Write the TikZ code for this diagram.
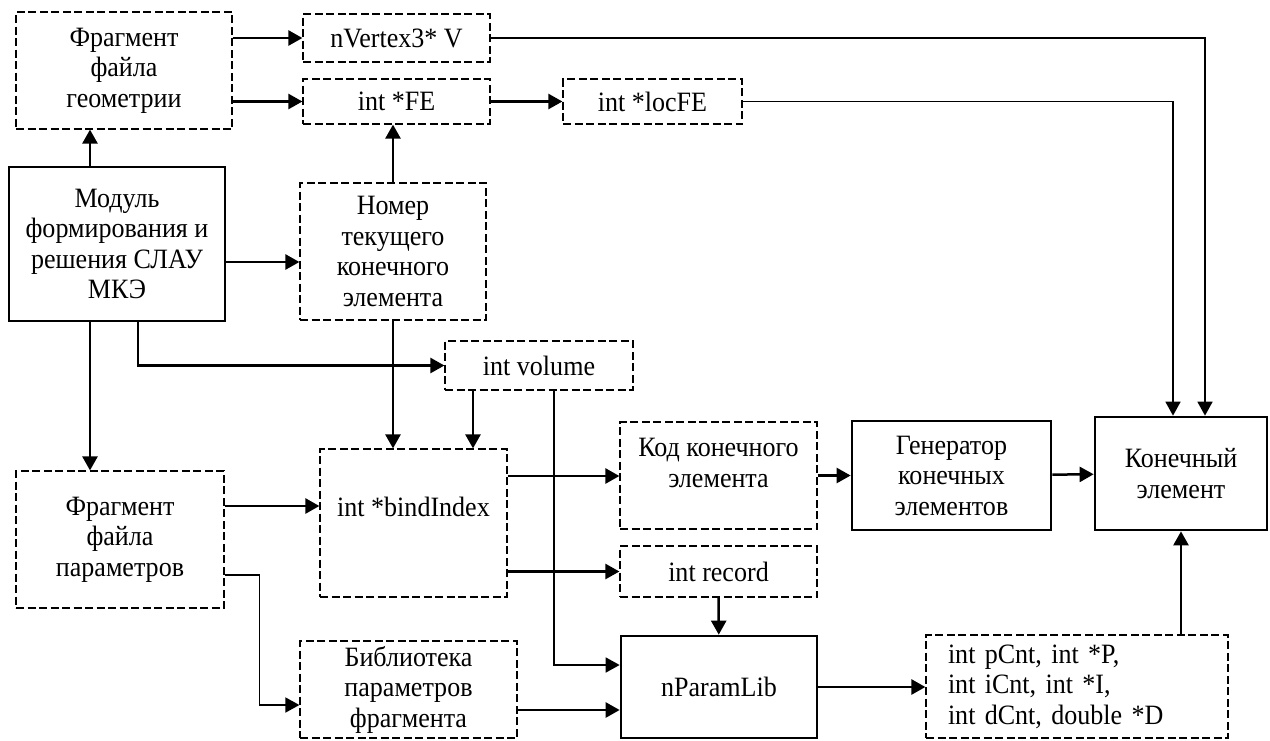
\documentclass[tikz,border=0pt]{standalone}
\usepackage{fontspec}
\setmainfont{Liberation Serif}[FakeStretch=0.93]
\usetikzlibrary{arrows.meta, positioning}

\begin{document}
\begin{tikzpicture}[x=1pt, y=-1pt,
    font=\fontsize{28}{30.5}\selectfont,
    dbox/.style={draw, dash pattern=on 8pt off 3.5pt, line width=1.2pt, align=center, inner sep=2pt},
    sbox/.style={draw, line width=2.7pt, align=center, inner sep=2pt},
    arr/.style={line width=2.5pt, -{Triangle[length=14pt, width=15pt]}},
    wire/.style={line width=1.6pt, -{Triangle[length=14pt, width=15pt]}},
    lbl/.style={align=center, inner sep=0pt}]
    \useasboundingbox (0,0) rectangle (1270,740);

    % Geometry part
    \node[dbox, minimum width=216pt, minimum height=117pt] (geom) at (124,70.5) {Фрагмент\\файла\\геометрии};
    \node[dbox, minimum width=187pt, minimum height=48pt] (vert) at (396.5,38) {nVertex3* V};
    \node[dbox, minimum width=187pt, minimum height=45pt] (fe) at (396.5,101.5) {int *FE};
    \node[dbox, minimum width=179pt, minimum height=45pt] (locfe) at (652.5,101.5) {int *locFE};

    % Solver module and element number
    \node[sbox, minimum width=216pt, minimum height=154pt] (modul) at (117,244) {Модуль\\формирования и\\решения СЛАУ\\МКЭ};
    \node[dbox, minimum width=186pt, minimum height=137pt] (nomer) at (393,251.5) {Номер\\текущего\\конечного\\элемента};
    \node[dbox, minimum width=188pt, minimum height=49pt] (volume) at (539,365.5) {int volume};

    % Parameters part
    \node[dbox, minimum width=208pt, minimum height=137pt] (params) at (120,539.5) {Фрагмент\\файла\\параметров};
    \node[dbox, minimum width=187pt, minimum height=148pt] (bind) at (413.5,523) {};
    \node[lbl] (bindtxt) at (413.5,507) {int *bindIndex};
    \node[dbox, minimum width=197pt, minimum height=107pt] (kod) at (718.5,475.5) {};
    \node[lbl] (kodtxt) at (718.5,463) {Код конечного\\элемента};
    \node[sbox, minimum width=199pt, minimum height=109pt] (gen) at (951.5,475.5) {Генератор\\конечных\\элементов};
    \node[sbox, minimum width=172pt, minimum height=113pt] (kon) at (1181,473.5) {Конечный\\элемент};
    \node[dbox, minimum width=197pt, minimum height=51pt] (record) at (718.5,571.5) {int record};

    % Library row
    \node[dbox, minimum width=217pt, minimum height=97pt] (biblio) at (408.5,689.5) {Библиотека\\параметров\\фрагмента};
    \node[sbox, minimum width=196pt, minimum height=102pt] (lib) at (719,687) {nParamLib};
    \node[dbox, text width=258pt, inner xsep=22pt, minimum height=103pt, align=left] (out) at (1077,686.5) {int pCnt, int *P,\\int iCnt, int *I,\\int dCnt, double *D};

    % Geometry arrows
    \draw[arr] (geom.east |- vert) -- (vert.west);
    \draw[arr] (geom.east |- fe) -- (fe.west);
    \draw[arr] (fe) -- (locfe);

    % From the module
    \draw[arr] ([xshift=-27pt]modul.north) -- ([xshift=-27pt]modul.north |- geom.south);
    \draw[arr] ([yshift=-18pt]modul.east) -- ([yshift=-18pt]modul.east -| nomer.west);
    \draw[arr] (nomer.north) -- (nomer.north |- fe.south);
    \draw[arr] ([xshift=21pt]modul.south) |- (volume.west);
    \draw[arr] ([xshift=-27pt]modul.south) -- ([xshift=-27pt]modul.south |- params.north);

    % Into bindIndex
    \draw[arr] (nomer.south) -- (nomer.south |- bind.north);
    \draw[arr] ([xshift=-66pt]volume.south) -- ([xshift=-66pt]volume.south |- bind.north);
    \draw[arr] ([yshift=33.5pt]params.east) -- ([yshift=33.5pt]params.east -| bind.west);

    % Thin wires
    \draw[wire] ([xshift=15pt]volume.south) |- ([yshift=22pt]lib.west);
    \draw[wire] ([yshift=-35.5pt]params.east) -- ++(35,0) |- ([yshift=-15.5pt]biblio.west);

    % Out of bindIndex
    \draw[arr] ([yshift=47pt]bind.east) -- ([yshift=47pt]bind.east -| kod.west);
    \draw[arr] (bind.east |- record) -- (record.west);
    \draw[arr] (kod) -- (gen);
    \draw[arr] (gen) -- (kon);
    \draw[arr] (record) -- (lib);
    \draw[arr] ([yshift=-20.5pt]biblio.east) -- ([yshift=-20.5pt]biblio.east -| lib.west);
    \draw[arr] (lib.east) -- (lib.east -| out.west);
    \draw[arr] (out.north -| kon) -- (kon.south);

    % Long wires to the element
    \draw[wire] (vert.east) -| ([xshift=24pt]kon.north);
    \draw[wire] (locfe.east) -| ([xshift=-8pt]kon.north);
\end{tikzpicture}
\end{document}
